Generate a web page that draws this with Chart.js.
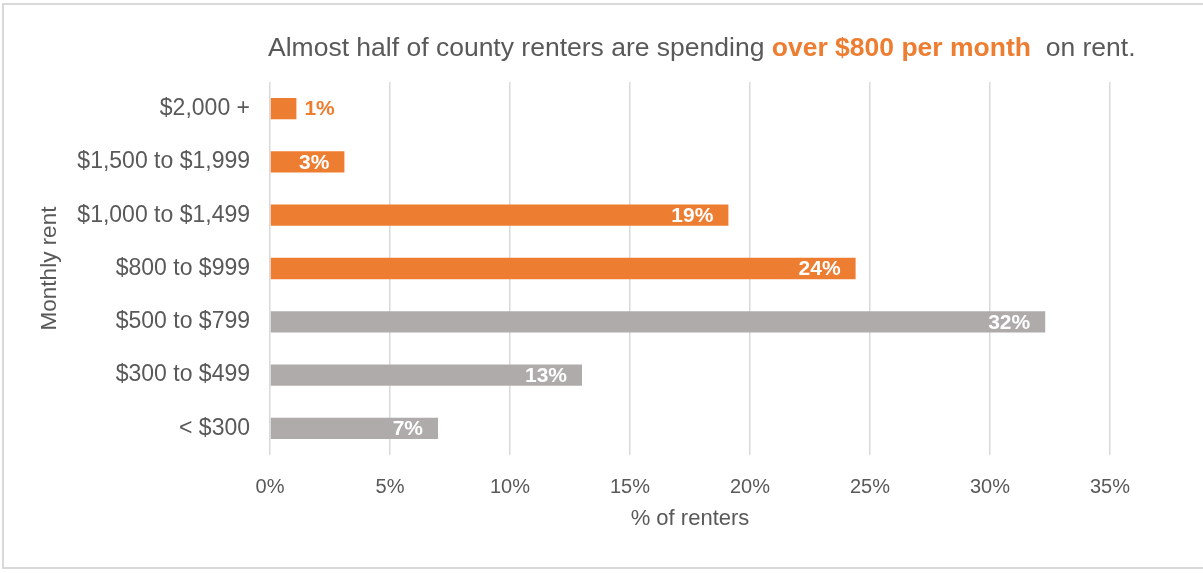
<!DOCTYPE html>
<html>
<head>
<meta charset="utf-8">
<script src="https://cdn.jsdelivr.net/npm/chart.js@4.4.1/dist/chart.umd.min.js"></script>
<style>
  html, body { margin: 0; padding: 0; background: #fff; }
  body { width: 1203px; height: 573px; position: relative; overflow: hidden; }
  .frame {
    position: absolute; left: 2px; top: 3px; width: 1230px; height: 566px;
    border: 2px solid #d9d9d9; border-right: none; box-sizing: border-box;
  }
  #wrap { position: absolute; left: 0; top: 0; width: 1203px; height: 573px; }
</style>
</head>
<body>
<div class="frame"></div>
<div id="wrap"><canvas id="rent"></canvas></div>
<script>
const categories = [
  "$2,000 +",
  "$1,500 to $1,999",
  "$1,000 to $1,499",
  "$800 to $999",
  "$500 to $799",
  "$300 to $499",
  "< $300",
];
// lower bound of each rent bracket, used to flag the $800+ groups
const rentFloor = [2000, 1500, 1000, 800, 500, 300, 0];
const shares = [1.1, 3.1, 19.1, 24.4, 32.3, 13.0, 7.0];
const xTicks = [0, 5, 10, 15, 20, 25, 30, 35];

const orange = "#ED7D31";
const gray = "#AFABAB";
const ink = "#595959";
const grid = "#D9D9D9";
const family = "'Liberation Sans', Arial, sans-serif";

const titleParts = [
  { text: "Almost half of county renters are spending ", color: ink, weight: "normal" },
  { text: "over $800 per month", color: orange, weight: "bold" },
  { text: "  on rent.", color: ink, weight: "normal" },
];

const titlePlugin = {
  id: "mixedTitle",
  afterDraw(chart) {
    const { ctx, chartArea } = chart;
    ctx.save();
    ctx.textBaseline = "middle";
    ctx.textAlign = "left";
    let x = chartArea.left - 2;
    for (const p of titleParts) {
      ctx.font = `${p.weight} 26.5px ${family}`;
      ctx.fillStyle = p.color;
      ctx.fillText(p.text, x, 49);
      x += ctx.measureText(p.text).width;
    }
    ctx.restore();
  },
};

// percent labels: inside the bar end in white, or just outside when the bar is too short
const barLabels = {
  id: "barLabels",
  afterDatasetsDraw(chart) {
    const { ctx } = chart;
    const meta = chart.getDatasetMeta(0);
    ctx.save();
    ctx.font = `bold 21px ${family}`;
    ctx.textBaseline = "middle";
    meta.data.forEach((bar, i) => {
      const label = Math.round(shares[i]) + "%";
      const w = ctx.measureText(label).width;
      const barW = bar.x - bar.base;
      if (w + 24 > barW) {
        ctx.textAlign = "left";
        ctx.fillStyle = bar.options.backgroundColor;
        ctx.fillText(label, bar.x + 8, bar.y + 1);
      } else {
        ctx.textAlign = "right";
        ctx.fillStyle = "#fff";
        ctx.fillText(label, bar.x - 15, bar.y + 1);
      }
    });
    ctx.restore();
  },
};

new Chart(document.getElementById("rent"), {
  type: "bar",
  data: {
    labels: categories,
    datasets: [
      {
        data: shares,
        backgroundColor: rentFloor.map((f) => (f >= 800 ? orange : gray)),
        borderWidth: 0,
        categoryPercentage: 1,
        barPercentage: 0.4,
      },
    ],
  },
  options: {
    indexAxis: "y",
    responsive: true,
    maintainAspectRatio: false,
    animation: false,
    layout: { padding: { left: 36, top: 82, right: 93, bottom: 10 } },
    plugins: {
      legend: { display: false },
      tooltip: { enabled: false },
    },
    scales: {
      x: {
        min: 0,
        max: 35,
        afterBuildTicks: (scale) => {
          scale.ticks = xTicks.map((v) => ({ value: v }));
        },
        ticks: {
          color: ink,
          padding: 20,
          font: { family, size: 20 },
          callback: (v) => v + "%",
        },
        grid: { color: grid, lineWidth: 1.5, drawTicks: false },
        border: { display: false },
        title: {
          display: true,
          text: "% of renters",
          color: ink,
          font: { family, size: 22 },
          padding: { top: 0, bottom: 31 },
        },
        afterFit: (scale) => {
          scale.height = 108;
        },
      },
      y: {
        ticks: {
          color: ink,
          padding: 20,
          font: { family, size: 23 },
        },
        grid: { display: false, drawTicks: false },
        border: { display: false },
        title: {
          display: true,
          text: "Monthly rent",
          color: ink,
          font: { family, size: 22.5 },
          padding: 0,
        },
        afterFit: (scale) => {
          scale.width = 234;
        },
      },
    },
  },
  plugins: [titlePlugin, barLabels],
});
</script>
</body>
</html>
